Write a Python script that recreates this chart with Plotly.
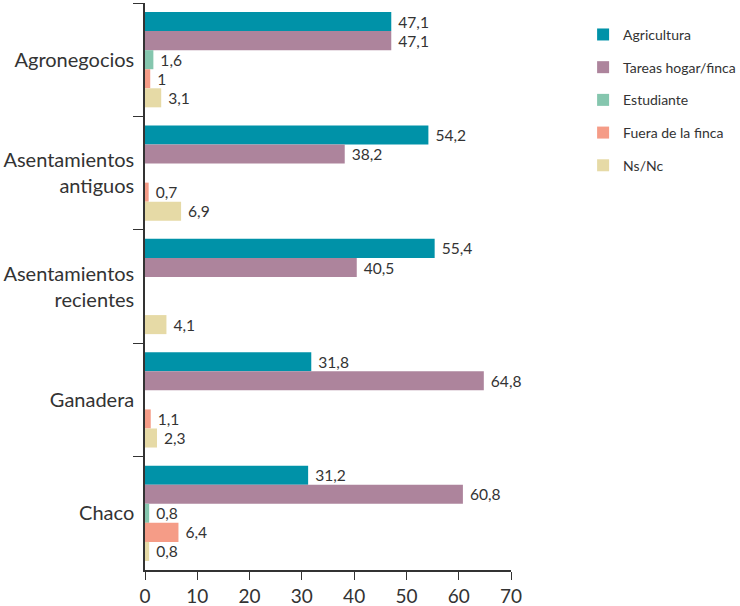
import plotly.graph_objects as go

categories = ['Agronegocios', 'Asentamientos<br>antiguos', 'Asentamientos<br>recientes',
              'Ganadera', 'Chaco']
series = ['Agricultura', 'Tareas hogar/finca', 'Estudiante', 'Fuera de la finca', 'Ns/Nc']

agricultura = [47.1, 54.2, 55.4, 31.8, 31.2]
tareas_hogar = [47.1, 38.2, 40.5, 64.8, 60.8]
estudiante = [1.6, None, None, None, 0.8]
fuera_finca = [1, 0.7, None, 1.1, 6.4]
ns_nc = [3.1, 6.9, 4.1, 2.3, 0.8]

colors = ['#0092a8', '#ad849c', '#85c6ae', '#f59c87', '#e6daa6']
values = [agricultura, tareas_hogar, estudiante, fuera_finca, ns_nc]


def fmt(v):
    # comma decimals, small gap before the label
    if v is None:
        return ''
    return '\u00a0' + ('%g' % v).replace('.', ',')


fig = go.Figure()
for i, name in enumerate(series):
    fig.add_trace(go.Bar(
        y=categories, x=values[i], name=name, orientation='h',
        marker=dict(color=colors[i], line=dict(width=0)),
        text=[fmt(v) for v in values[i]], textposition='outside',
        textfont=dict(size=18, color='#333333'), cliponaxis=False,
        legendgroup=name,
    ))

fig.update_layout(
    width=740, height=606,
    margin=dict(l=145, r=229, t=3, b=36, autoexpand=False),
    barmode='group', bargap=0.16, bargroupgap=0,
    plot_bgcolor='white', paper_bgcolor='white',
    font=dict(family='Lato', size=20, color='#333333'),
    legend=dict(x=1.197, y=0.972, xanchor='left', yanchor='top',
                font=dict(size=14), tracegroupgap=11.5, itemwidth=30),
    showlegend=True,
)
fig.update_xaxes(range=[0, 70], dtick=10, showgrid=False, zeroline=False,
                 showline=True, linecolor='#333333', linewidth=1.5,
                 ticks='outside', ticklen=8, tickcolor='#333333',
                 tickfont=dict(size=19))
fig.update_yaxes(autorange='reversed', showgrid=False, zeroline=False,
                 showline=True, linecolor='#333333', linewidth=1.5,
                 ticks='outside', ticklen=10, tickcolor='#333333',
                 tickson='boundaries', ticklabelstandoff=5)

fig.write_html("out.html", config={'displayModeBar': False},
               post_script="document.body.style.margin='0';")
